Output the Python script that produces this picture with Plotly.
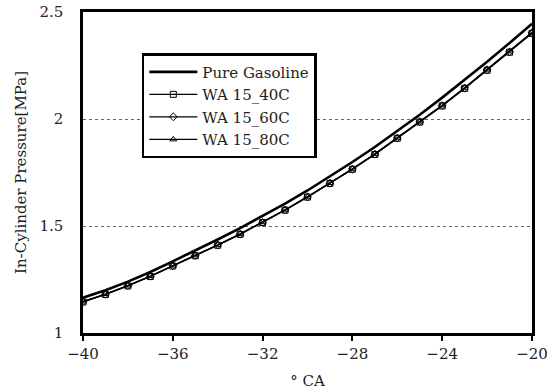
import plotly.graph_objects as go

crank_angle = [-40, -39, -38, -37, -36, -35, -34, -33, -32, -31, -30,
               -29, -28, -27, -26, -25, -24, -23, -22, -21, -20]

pure_gasoline = [1.165, 1.200, 1.240, 1.285, 1.335, 1.385, 1.437, 1.490, 1.546, 1.605, 1.666,
                 1.731, 1.799, 1.869, 1.943, 2.020, 2.100, 2.182, 2.267, 2.355, 2.445]
wa15_40c = [1.145, 1.180, 1.220, 1.264, 1.313, 1.361, 1.410, 1.461, 1.516, 1.574, 1.635,
            1.699, 1.765, 1.834, 1.910, 1.986, 2.061, 2.143, 2.228, 2.312, 2.400]
wa15_60c = [1.146, 1.181, 1.221, 1.265, 1.314, 1.362, 1.411, 1.462, 1.517, 1.575, 1.636,
            1.700, 1.766, 1.836, 1.911, 1.987, 2.063, 2.145, 2.230, 2.314, 2.403]
wa15_80c = [1.147, 1.182, 1.222, 1.266, 1.315, 1.363, 1.412, 1.463, 1.518, 1.576, 1.637,
            1.701, 1.767, 1.837, 1.912, 1.988, 2.064, 2.146, 2.231, 2.316, 2.405]

x_ticks = [-40, -36, -32, -28, -24, -20]
y_ticks = [1, 1.5, 2, 2.5]
y_tick_text = ["1", "1.5", "2", "2.5"]

FONT = "DejaVu Serif, serif"
TXT = "#222222"

fig = go.Figure()
fig.add_trace(go.Scatter(x=crank_angle, y=pure_gasoline, mode="lines", name="Pure Gasoline",
                         line=dict(color="black", width=2.6)))
for name, ys, sym in [("WA 15_40C", wa15_40c, "square-open"),
                      ("WA 15_60C", wa15_60c, "diamond-open"),
                      ("WA 15_80C", wa15_80c, "triangle-up-open")]:
    fig.add_trace(go.Scatter(x=crank_angle, y=ys, mode="lines+markers", name=name,
                             line=dict(color="black", width=1.3),
                             marker=dict(symbol=sym, size=6, color="black",
                                         line=dict(color="black", width=1))))

fig.update_layout(
    width=550, height=390,
    margin=dict(l=83, r=18, t=12, b=57),
    paper_bgcolor="white", plot_bgcolor="white",
    font=dict(family=FONT, size=15, color=TXT),
    showlegend=True,
    legend=dict(x=0.131, y=0.872, xanchor="left", yanchor="top",
                bgcolor="white", bordercolor="black", borderwidth=2.5,
                font=dict(family=FONT, size=15, color=TXT),
                itemwidth=48, tracegroupgap=0),
)
fig.update_xaxes(range=[-40, -20], tickvals=x_ticks, showgrid=False, zeroline=False,
                 automargin=False,
                 showline=True, linecolor="black", linewidth=2.5, mirror=True,
                 ticks="outside", ticklen=5, tickwidth=2, tickcolor="black",
                 tickfont=dict(family=FONT, size=15, color=TXT),
                 title=dict(text="° CA", font=dict(family=FONT, size=15, color=TXT), standoff=14))
fig.update_yaxes(range=[1, 2.5], tickvals=y_ticks, ticktext=y_tick_text,
                 automargin=False,
                 showgrid=True, gridcolor="#666666", griddash="dot", gridwidth=1,
                 zeroline=False,
                 showline=True, linecolor="black", linewidth=2.5, mirror=True,
                 ticks="", ticklabelstandoff=14,
                 tickfont=dict(family=FONT, size=15, color=TXT),
                 title=dict(text="In-Cylinder Pressure[MPa]", font=dict(family=FONT, size=15, color=TXT), standoff=10))

fig.write_html("out.html", config={"displayModeBar": False},
               post_script="document.body.style.margin='0';document.body.style.overflow='hidden';")
